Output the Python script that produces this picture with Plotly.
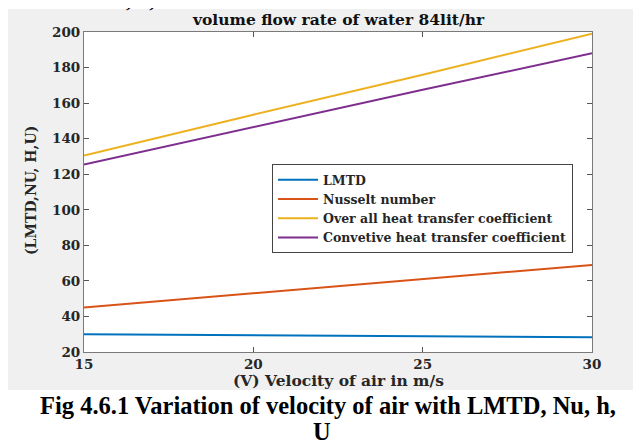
import plotly.graph_objects as go

velocity = [15, 20, 25, 30]
lmtd = [30.0, 29.5, 29.0, 28.3]
nusselt = [45.0, 53.0, 61.0, 69.0]
overall_u = [130.5, 153.5, 176.0, 199.0]
convective_h = [125.5, 146.5, 167.5, 188.0]

series_names = ["LMTD", "Nusselt number", "Over all heat transfer coefficient",
                "Convetive heat transfer coefficient"]
series_values = [lmtd, nusselt, overall_u, convective_h]
colors = ["#0072BD", "#D95319", "#EDB120", "#7E2F8E"]

x_ticks = [15, 20, 25, 30]
y_ticks = [20, 40, 60, 80, 100, 120, 140, 160, 180, 200]

# page body has an 8px margin; work in screen pixels and convert
OFF = 8
W, H = 641 - OFF, 445 - OFF
L, R, T, B = 84, 592, 32, 352          # plot area in screen pixels
pw, ph = R - L, B - T

def px(xs):
    return (xs - L) / pw

def py(ys):
    return (B - ys) / ph

serif = "DejaVu Serif"
times = "Liberation Serif"

fig = go.Figure()
for name, vals, c in zip(series_names, series_values, colors):
    fig.add_trace(go.Scatter(x=velocity, y=vals, mode="lines", name=name,
                             line=dict(color=c, width=2)))

axis_common = dict(showgrid=False, zeroline=False, showline=True, mirror="ticks",
                   linecolor="#7a7a7a", linewidth=1.2, ticks="inside", ticklen=5,
                   tickcolor="#555555",
                   tickfont=dict(family=serif, size=13.5, color="#262626", weight="bold"))

fig.update_xaxes(range=[15, 30], tickvals=x_ticks, **axis_common)
fig.update_yaxes(range=[20, 200], tickvals=y_ticks, **axis_common)

fig.update_layout(
    width=W, height=H,
    margin=dict(l=L - OFF, r=641 - R, t=T - OFF, b=445 - B),
    paper_bgcolor="white", plot_bgcolor="white",
    showlegend=True,
    legend=dict(x=px(272), y=py(164), xanchor="left", yanchor="top",
                bgcolor="white", bordercolor="#444444", borderwidth=1,
                font=dict(family=serif, size=12.5, color="#262626", weight="bold"),
                tracegroupgap=0, itemwidth=40),
    shapes=[
        dict(type="rect", xref="paper", yref="paper", layer="below",
             x0=px(8), x1=px(645), y0=py(390), y1=py(9),
             fillcolor="#f0f0f0", line=dict(width=0)),
        dict(type="rect", xref="paper", yref="paper", layer="below",
             x0=0, x1=1, y0=0, y1=1, fillcolor="white", line=dict(width=0)),
    ],
    annotations=[
        dict(text="volume flow rate of water 84lit/hr", xref="paper", yref="paper",
             x=0.5, y=py(19), xanchor="center", yanchor="middle", showarrow=False,
             font=dict(family=serif, size=15.5, color="#111111", weight="bold")),
        dict(text="(V) Velocity of air in m/s", xref="paper", yref="paper",
             x=0.5, y=py(380), xanchor="center", yanchor="middle", showarrow=False,
             font=dict(family=serif, size=15.5, color="#262626", weight="bold")),
        dict(text="(LMTD,NU, H,U)", xref="paper", yref="paper", textangle=-90,
             x=px(31), y=py(191), xanchor="center", yanchor="middle", showarrow=False,
             font=dict(family=serif, size=14, color="#262626", weight="bold")),
        dict(text="Fig 4.6.1 Variation of velocity of air with LMTD, Nu, h,",
             xref="paper", yref="paper", x=px(328), y=py(405),
             xanchor="center", yanchor="middle", showarrow=False,
             font=dict(family=times, size=24.5, color="#000000", weight="bold")),
        dict(text="U", xref="paper", yref="paper", x=px(322), y=py(431),
             xanchor="center", yanchor="middle", showarrow=False,
             font=dict(family=times, size=24.5, color="#000000", weight="bold")),
        dict(text="Nu, h, U", xref="paper", yref="paper", x=px(96), y=py(14),
             xanchor="left", yanchor="bottom", showarrow=False,
             font=dict(family=times, size=22, color="#000000", weight="bold")),
    ],
)

fig.write_html("out.html")
